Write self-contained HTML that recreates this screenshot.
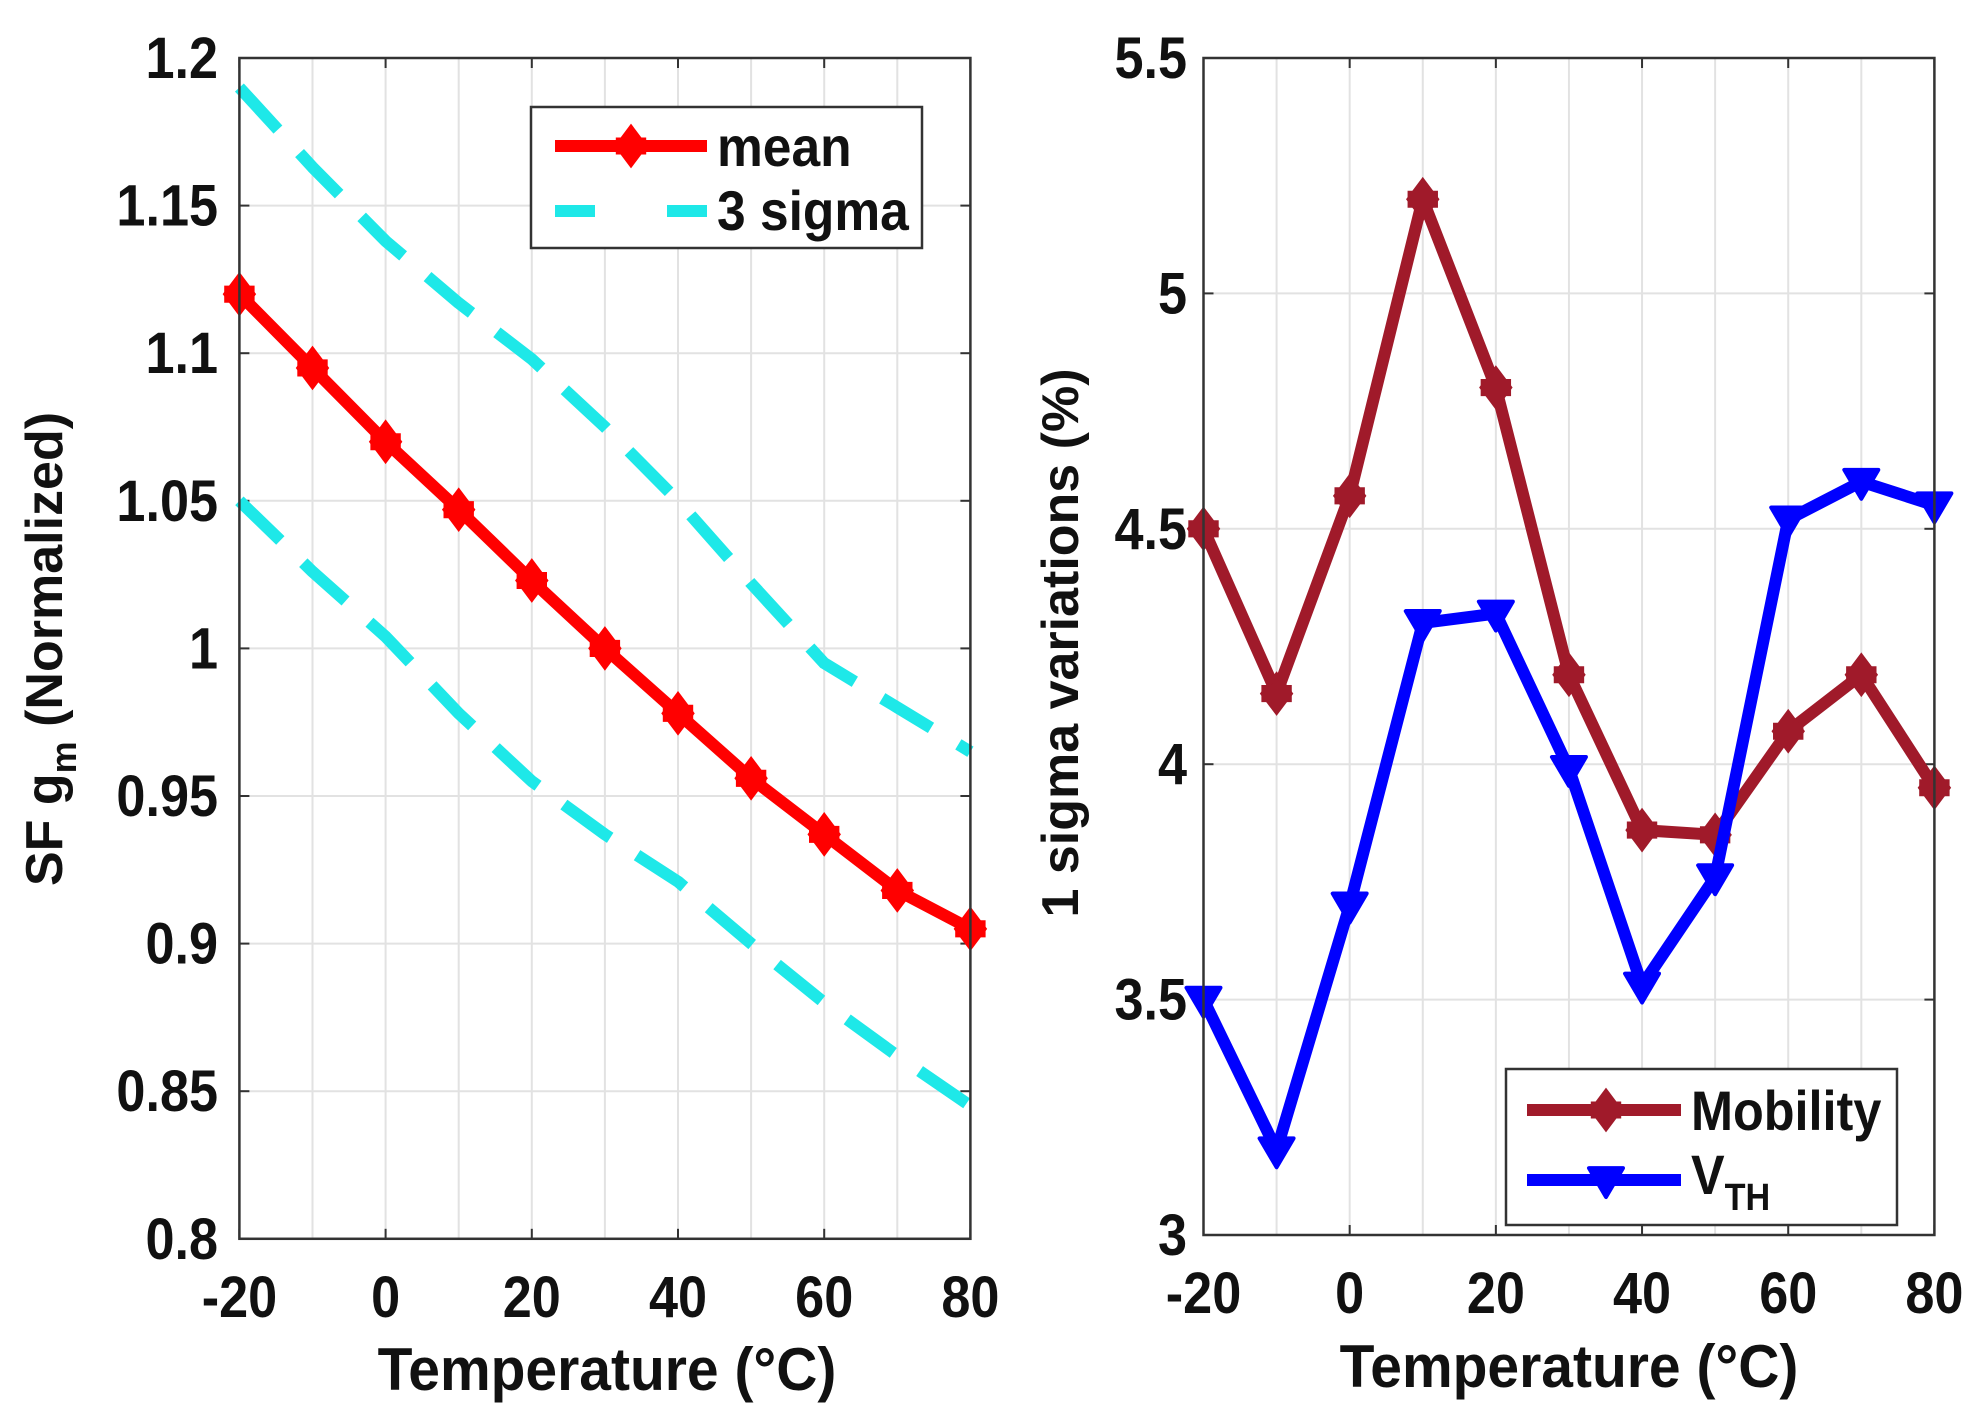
<!DOCTYPE html>
<html><head><meta charset="utf-8">
<style>
html,body{margin:0;padding:0;background:#fff;}
svg{display:block;font-family:"Liberation Sans",Arial,sans-serif;font-weight:bold;}
</style></head>
<body>
<svg id="fig" width="1976" height="1428" viewBox="0 0 1976 1428"></svg>
<script>
const temps=[-20,-10,0,10,20,30,40,50,60,70,80];
const meanVals=[1.12,1.095,1.07,1.047,1.023,1.0,0.978,0.956,0.937,0.918,0.905];
const upperVals=[1.19,1.163,1.138,1.117,1.098,1.075,1.05,1.022,0.995,0.98,0.965];
const lowerVals=[1.05,1.026,1.004,0.978,0.955,0.937,0.921,0.9,0.88,0.862,0.845];
const mobilityVals=[4.5,4.15,4.57,5.2,4.8,4.19,3.86,3.85,4.07,4.19,3.95];
const vthVals=[3.5,3.18,3.7,4.3,4.32,3.99,3.53,3.76,4.52,4.6,4.55];
const xTicks=[-20,0,20,40,60,80];
const xGrid=[-20,-10,0,10,20,30,40,50,60,70,80];
const leftYTicks=[0.8,0.85,0.9,0.95,1,1.05,1.1,1.15,1.2];
const leftYLabels=['0.8','0.85','0.9','0.95','1','1.05','1.1','1.15','1.2'];
const rightYTicks=[3,3.5,4,4.5,5,5.5];
const rightYLabels=['3','3.5','4','4.5','5','5.5'];

const NS='http://www.w3.org/2000/svg';
const svg=document.getElementById('fig');
function el(tag,attrs,parent){const e=document.createElementNS(NS,tag);for(const k in attrs)e.setAttribute(k,attrs[k]);(parent||svg).appendChild(e);return e;}
function ctext(x,y,anchor,size,str,parent,sx){
  const t=el('text',{x:0,y:0,'text-anchor':anchor,'font-size':size,fill:'#111',transform:`translate(${x},${y}) scale(${sx||0.9},1)`},parent);
  t.textContent=str;return t;
}

function makeAxes(name,x0,x1,y0,y1,xmin,xmax,ymin,ymax){
  const g=el('g',{});
  
  
  const sx=v=>x0+(v-xmin)/(xmax-xmin)*(x1-x0);
  const sy=v=>y1-(v-ymin)/(ymax-ymin)*(y1-y0);
  return {g,sx,sy,x0,x1,y0,y1};
}
function drawFrame(ax,yTicks,yLabels,yLabelRight){
  const g=ax.g;
  el('rect',{x:ax.x0,y:ax.y0,width:ax.x1-ax.x0,height:ax.y1-ax.y0,fill:'#fff'},g);
  xGrid.forEach(v=>{const l=el('line',{x1:ax.sx(v),x2:ax.sx(v),y1:ax.y0,y2:ax.y1,stroke:'#e2e2e2','stroke-width':2},g);
    });
  yTicks.forEach(v=>{const l=el('line',{x1:ax.x0,x2:ax.x1,y1:ax.sy(v),y2:ax.sy(v),stroke:'#e2e2e2','stroke-width':2},g);
    });
  yTicks.forEach((v,i)=>{
    el('line',{x1:ax.x0,x2:ax.x0+10,y1:ax.sy(v),y2:ax.sy(v),stroke:'#333','stroke-width':2},g);
    el('line',{x1:ax.x1,x2:ax.x1-10,y1:ax.sy(v),y2:ax.sy(v),stroke:'#333','stroke-width':2},g);
    const t=ctext(yLabelRight,ax.sy(v)+20,'end',58,yLabels[i],g);
    
  });
  xTicks.forEach(v=>{
    el('line',{x1:ax.sx(v),x2:ax.sx(v),y1:ax.y1,y2:ax.y1-10,stroke:'#333','stroke-width':2},g);
    el('line',{x1:ax.sx(v),x2:ax.sx(v),y1:ax.y0,y2:ax.y0+10,stroke:'#333','stroke-width':2},g);
    const t=ctext(ax.sx(v),ax.y1+78,'middle',58,String(v),g);
    
  });
}
function frameBorder(ax){el('rect',{x:ax.x0,y:ax.y0,width:ax.x1-ax.x0,height:ax.y1-ax.y0,fill:'none',stroke:'#333','stroke-width':2.5},ax.g);}
function polyline(ax,vals,color,name,dash){
  const pts=temps.map((t,i)=>ax.sx(t)+','+ax.sy(vals[i])).join(' ');
  const p=el('polyline',{points:pts,fill:'none',stroke:color,'stroke-width':12,'stroke-linejoin':'round'},ax.g);
  if(dash)p.setAttribute('stroke-dasharray',dash);
  
}
function diamond(cx,cy,color,parent,name){
  const r=19;
  const p=el('polygon',{points:`${cx},${cy-r} ${cx+r*0.75},${cy} ${cx},${cy+r} ${cx-r*0.75},${cy}`,fill:color,stroke:color,'stroke-width':4},parent);
  el('polygon',{points:`${cx-r*0.8},${cy-r*0.45} ${cx+r*0.8},${cy-r*0.45} ${cx+r*0.8},${cy+r*0.45} ${cx-r*0.8},${cy+r*0.45}`,fill:color},parent);
  
}
function triDown(cx,cy,color,parent,name){
  const r=17;
  const p=el('polygon',{points:`${cx-r},${cy-r*0.7} ${cx+r},${cy-r*0.7} ${cx},${cy+r}`,fill:color,stroke:color,'stroke-width':4,'stroke-linejoin':'round'},parent);
  
}

// LEFT
const L=makeAxes('left-axes',239.4,970.4,58,1238.8,-20,80,0.8,1.2);
drawFrame(L,leftYTicks,leftYLabels,218);
polyline(L,upperVals,'#1ee8e8','upper-3-sigma-line','57 32');
polyline(L,lowerVals,'#1ee8e8','lower-3-sigma-line','57 32');
polyline(L,meanVals,'#ff0000','mean-line');
temps.forEach((t,i)=>diamond(L.sx(t),L.sy(meanVals[i]),'#ff0000',L.g,'mean-marker'));
frameBorder(L);
// left legend
const lg=el('g',{});
el('rect',{x:531,y:107,width:391,height:141,fill:'#fff',stroke:'#333','stroke-width':2.5},lg);
el('line',{x1:555,x2:707,y1:146,y2:146,stroke:'#ff0000','stroke-width':12},lg);
diamond(631,146,'#ff0000',lg,'legend-mean-marker');
ctext(717,166,'start',56,'mean',lg,0.92);
el('line',{x1:555,x2:707,y1:211,y2:211,stroke:'#1ee8e8','stroke-width':12,'stroke-dasharray':'40 72'},lg);
ctext(717,230,'start',56,'3 sigma',lg,0.92);

// RIGHT
const R=makeAxes('right-axes',1203.5,1934.4,58,1235,-20,80,3,5.5);
drawFrame(R,rightYTicks,rightYLabels,1187);
polyline(R,mobilityVals,'#a01a2a','mobility-line');
temps.forEach((tt,i)=>diamond(R.sx(tt),R.sy(mobilityVals[i]),'#a01a2a',R.g,'mobility-marker'));
polyline(R,vthVals,'#0000ff','vth-line');
temps.forEach((tt,i)=>triDown(R.sx(tt),R.sy(vthVals[i]),'#0000ff',R.g,'vth-marker'));
frameBorder(R);
const rg=el('g',{});
el('rect',{x:1506,y:1069,width:391,height:156,fill:'#fff',stroke:'#333','stroke-width':2.5},rg);
el('line',{x1:1527,x2:1681,y1:1110,y2:1110,stroke:'#a01a2a','stroke-width':12},rg);
diamond(1606,1110,'#a01a2a',rg,'legend-mobility-marker');
ctext(1691,1130,'start',56,'Mobility',rg,0.9);
el('line',{x1:1527,x2:1681,y1:1180,y2:1180,stroke:'#0000ff','stroke-width':12},rg);
triDown(1606,1180,'#0000ff',rg,'legend-vth-marker');
let t=el('text',{x:0,y:0,'font-size':56,fill:'#111',transform:'translate(1691,1194) scale(0.9,1)'},rg);
t.innerHTML='V<tspan font-size="38" dy="16">TH</tspan>';

// axis titles
t=ctext(607,1390,'middle',60,'Temperature (°C)',null,0.95);

t=ctext(1569,1387,'middle',60,'Temperature (°C)',null,0.95);

t=el('text',{x:0,y:0,'text-anchor':'middle','font-size':52,fill:'#111',transform:'translate(62,649) rotate(-90)'});
t.innerHTML='SF g<tspan font-size="36" dy="14">m</tspan><tspan dy="-14"> (Normalized)</tspan>';

t=el('text',{x:0,y:0,'text-anchor':'middle','font-size':52,fill:'#111',transform:'translate(1078,643) rotate(-90)'});
t.textContent='1 sigma variations (%)';

</script>
</body></html>
